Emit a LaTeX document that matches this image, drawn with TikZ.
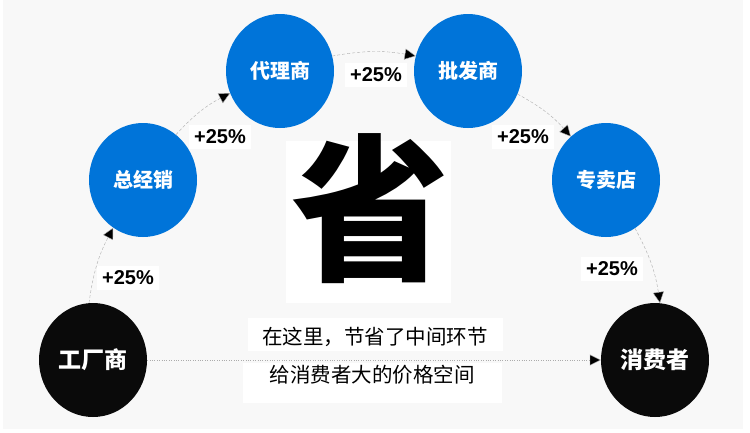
\documentclass[tikz,border=0pt]{standalone}
\usepackage{fontspec}
\setmainfont{Liberation Sans}
\newfontfamily\cjk{Noto Sans CJK SC}
\usepackage{tikz}
\usetikzlibrary{arrows.meta,shapes.geometric}
\definecolor{nodeblue}{HTML}{0074D9}
\definecolor{nodeblack}{HTML}{0A0A0A}
\definecolor{bggray}{HTML}{F8F8F8}

\begin{document}
\begin{tikzpicture}[
  x=1pt, y=-1pt, >=Triangle,
  every node/.style={font=\cjk},
  stage/.style={ellipse, minimum width=108pt, minimum height=114pt, inner sep=0pt,
    text=white, font=\cjk\bfseries\fontsize{20}{20}\selectfont},
  bluestage/.style={stage, fill=nodeblue},
  endstage/.style={stage, fill=nodeblack, font=\cjk\bfseries\fontsize{23}{23}\selectfont},
  markup/.style={fill=white, inner xsep=5pt, inner ysep=5pt,
    font=\bfseries\fontsize{20}{20}\selectfont},
  hop/.style={draw=gray!65, dashed, dash pattern=on 3pt off 2pt,
    -{Triangle[length=11pt,width=11pt,fill=black]}, bend left=10}
]
  \useasboundingbox (0,0) rectangle (750,432);
  \fill[bggray] (3,0) rectangle (743,429);
  % the chain of stages
  \node[endstage] (factory) at (93,360) {工厂商};
  \node[bluestage] (general) at (143,180) {总经销};
  \node[bluestage] (agent) at (280,71) {代理商};
  \node[bluestage] (wholesale) at (468,71) {批发商};
  \node[bluestage] (shop) at (606,180) {专卖店};
  \node[endstage] (consumer) at (655,360) {消费者};
  % markups on the way
  \draw[hop] (factory.94) to (general.238);
  \draw[hop] (general.54) to (agent.204);
  \draw[hop] (agent.16) to (wholesale.164);
  \draw[hop] (wholesale.335) to (shop.129);
  \draw[hop] (shop.301) to (consumer.85);
  \node[markup] (m1) at (128,278) {+25\%};
  \node[markup] (m2) at (220,137) {+25\%};
  \node[markup] (m3) at (376,75) {+25\%};
  \node[markup] (m4) at (523,137) {+25\%};
  \node[markup] (m5) at (612,269) {+25\%};
  % direct way
  \draw[gray!65, dotted, -{Triangle[length=11pt,width=11pt,fill=black]}]
    (factory.east) -- (consumer.west);
  \node[fill=white, minimum width=255pt, text height=26pt, text depth=7pt,
    inner ysep=0pt, font=\cjk\fontsize{20.5}{20.5}\selectfont] (line1)
    at (375,334.5) {在这里，节省了中间环节};
  \node[fill=white, minimum width=259pt, text height=19pt, text depth=21pt,
    inner ysep=0pt, font=\cjk\fontsize{20.5}{20.5}\selectfont] (line2)
    at (372,383) {给消费者大的价格空间};
  % big sign
  \node[fill=white, minimum width=165pt, minimum height=162pt] (board) at (368.5,222) {};
  \node[font=\cjk\bfseries\fontsize{158}{158}\selectfont, inner sep=0pt] (sheng)
    at (370,209) {省};
\end{tikzpicture}
\end{document}
